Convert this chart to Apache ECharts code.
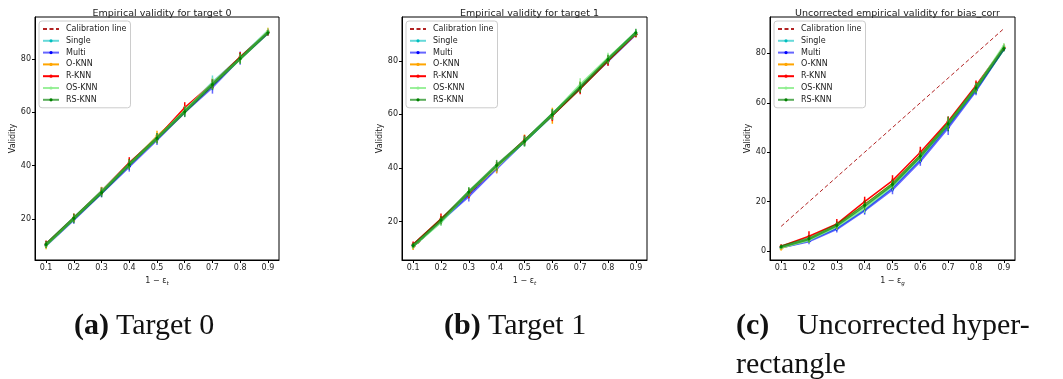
<!DOCTYPE html>
<html>
<head>
<meta charset="utf-8">
<script src="https://cdn.jsdelivr.net/npm/echarts@6/dist/echarts.min.js"></script>
<style>
html,body{margin:0;padding:0;background:#fff;}
#chart{width:1063px;height:379px;}
</style>
</head>
<body>
<div id="chart"></div>
<script>
// ---------- data ----------
const xs = [0.1, 0.2, 0.3, 0.4, 0.5, 0.6, 0.7, 0.8, 0.9];
const xTicks = [0.1, 0.2, 0.3, 0.4, 0.5, 0.6, 0.7, 0.8, 0.9];
const yTicksAB = [20, 40, 60, 80];
const yTicksC = [0, 20, 40, 60, 80];
const calib = [10, 20, 30, 40, 50, 60, 70, 80, 90];

const seriesNames = ['Calibration line', 'Single', 'Multi', 'O-KNN', 'R-KNN', 'OS-KNN', 'RS-KNN'];

const titles = ['Empirical validity for target 0', 'Empirical validity for target 1', 'Uncorrected empirical validity for bias_corr'];

// Target 0
const aSingle    = [10.5, 20.3, 30.2, 40.5, 50.5, 60.6, 71.0, 80.3, 90.2];
const aSingleErr = [1.2, 1.5, 1.6, 1.8, 1.8, 1.8, 2.8, 1.8, 1.0];
const aMulti     = [10.2, 19.8, 29.8, 39.8, 49.8, 60.2, 69.5, 80.3, 89.8];
const aMultiErr  = [1.0, 1.5, 1.6, 2.0, 2.0, 1.8, 2.5, 2.5, 1.0];
const aOKNN      = [10.0, 20.5, 30.6, 40.8, 51.3, 61.0, 70.5, 80.5, 90.5];
const aOKNNErr   = [1.3, 1.5, 1.5, 1.8, 1.8, 1.8, 1.8, 1.8, 1.2];
const aRKNN      = [10.8, 20.5, 30.5, 41.2, 50.5, 61.8, 70.8, 80.8, 90.0];
const aRKNNErr   = [1.2, 1.5, 1.5, 2.0, 1.8, 2.0, 1.8, 1.8, 1.2];
const aOSKNN     = [10.3, 20.2, 30.3, 40.5, 50.3, 60.5, 70.8, 80.0, 90.3];
const aOSKNNErr  = [1.2, 1.5, 1.6, 1.8, 2.0, 1.8, 2.2, 1.8, 1.2];
const aRSKNN     = [10.5, 20.3, 30.0, 40.5, 50.3, 60.2, 70.4, 80.2, 89.8];
const aRSKNNErr  = [1.3, 1.8, 1.8, 2.0, 2.0, 2.0, 2.0, 2.0, 1.0];

// Target 1
const bSingle    = [11.0, 20.0, 30.5, 40.5, 50.0, 59.8, 70.5, 80.5, 90.5];
const bSingleErr = [1.0, 1.5, 1.8, 1.8, 1.8, 2.0, 2.0, 1.8, 1.2];
const bMulti     = [11.0, 20.3, 29.5, 39.8, 50.0, 59.8, 70.0, 80.0, 90.0];
const bMultiErr  = [1.0, 1.5, 2.0, 1.8, 1.8, 2.0, 2.0, 1.8, 1.2];
const bOKNN      = [10.5, 20.5, 30.5, 40.0, 50.5, 59.5, 70.5, 80.3, 90.0];
const bOKNNErr   = [1.2, 1.5, 1.8, 2.0, 2.0, 3.0, 2.0, 1.8, 1.2];
const bRKNN      = [11.5, 21.0, 30.5, 40.5, 50.5, 59.5, 69.5, 80.0, 90.0];
const bRKNNErr   = [1.0, 2.0, 1.8, 1.8, 1.8, 2.0, 2.0, 1.8, 1.2];
const bOSKNN     = [10.8, 19.8, 31.0, 40.5, 50.0, 60.0, 71.0, 81.0, 90.5];
const bOSKNNErr  = [1.0, 1.5, 1.8, 1.8, 2.0, 2.0, 2.5, 2.0, 1.2];
const bRSKNN     = [11.0, 20.5, 31.0, 41.0, 50.0, 60.0, 70.0, 80.5, 90.5];
const bRSKNNErr  = [1.0, 1.5, 1.8, 2.0, 2.0, 2.0, 2.0, 1.8, 1.5];

// Uncorrected (bias_corr)
const cSingle    = [1.5, 4.5, 9.5, 17.0, 26.0, 37.5, 51.0, 65.5, 82.0];
const cSingleErr = [0.8, 1.2, 1.5, 2.0, 2.0, 2.0, 2.5, 2.0, 1.2];
const cMulti     = [1.5, 4.0, 9.0, 16.5, 25.0, 36.5, 50.0, 65.0, 82.0];
const cMultiErr  = [0.8, 1.2, 1.5, 1.8, 2.0, 2.0, 3.0, 2.0, 1.2];
const cOKNN      = [1.0, 5.0, 10.5, 19.0, 27.5, 39.0, 52.0, 66.5, 82.5];
const cOKNNErr   = [0.8, 1.5, 1.5, 2.0, 2.0, 2.0, 2.0, 2.0, 1.2];
const cRKNN      = [2.0, 6.0, 11.0, 20.0, 28.5, 40.0, 52.5, 67.0, 82.5];
const cRKNNErr   = [0.8, 2.0, 2.0, 2.0, 2.2, 2.2, 2.0, 2.0, 1.2];
const cOSKNN     = [1.5, 4.5, 10.0, 17.5, 26.5, 38.0, 51.5, 66.0, 83.0];
const cOSKNNErr  = [0.8, 1.2, 1.5, 2.0, 2.0, 2.0, 2.5, 2.0, 1.2];
const cRSKNN     = [1.8, 5.0, 10.5, 18.5, 27.0, 38.5, 51.5, 66.0, 82.0];
const cRSKNNErr  = [0.8, 1.5, 1.5, 2.0, 2.0, 2.2, 3.0, 2.2, 1.2];

const xSubs = ['t', 't', 'g'];

// ---------- styling (not data) ----------
const styles = {
  'Single': {color: 'rgba(0,191,191,0.6)', sym: '#00bfbf', lw: 3},
  'Multi':  {color: 'rgba(0,0,255,0.6)', sym: '#0000ff', lw: 2.5},
  'O-KNN':  {color: '#ffa500', sym: '#ffa500', lw: 1},
  'R-KNN':  {color: '#ff0000', sym: '#ff0000', lw: 1.5},
  'OS-KNN': {color: 'rgba(144,238,144,0.9)', sym: '#90ee90', lw: 2.5},
  'RS-KNN': {color: 'rgba(0,128,0,0.65)', sym: '#008000', lw: 3}
};

const panels = [
  {vals: [aSingle, aMulti, aOKNN, aRKNN, aOSKNN, aRSKNN], errs: [aSingleErr, aMultiErr, aOKNNErr, aRKNNErr, aOSKNNErr, aRSKNNErr], ymin: 4.7, ymax: 95.7, yt: yTicksAB},
  {vals: [bSingle, bMulti, bOKNN, bRKNN, bOSKNN, bRSKNN], errs: [bSingleErr, bMultiErr, bOKNNErr, bRKNNErr, bOSKNNErr, bRSKNNErr], ymin: 5.6, ymax: 96.4, yt: yTicksAB},
  {vals: [cSingle, cMulti, cOKNN, cRKNN, cOSKNN, cRSKNN], errs: [cSingleErr, cMultiErr, cOKNNErr, cRKNNErr, cOSKNNErr, cRSKNNErr], ymin: -3.6, ymax: 94.7, yt: yTicksC}
];

const gridPos = [
  {left: 35, top: 17, width: 244, height: 243},
  {left: 402, top: 17, width: 245, height: 243},
  {left: 770, top: 17, width: 245, height: 243}
];

const FONT = '"DejaVu Sans", sans-serif';

const grids = [], xAxes = [], yAxes = [], series = [], legends = [], titleArr = [];

const legendData = seriesNames.map((n, k) => k === 0 ? {name: n, itemStyle: {opacity: 0}} : {name: n});

gridPos.forEach((g, i) => {
  grids.push({left: g.left, top: g.top, width: g.width, height: g.height, show: true, borderColor: '#000', borderWidth: 1, backgroundColor: 'transparent', containLabel: false});
  xAxes.push({
    type: 'value', gridIndex: i, min: 0.06, max: 0.94,
    axisLine: {show: true, onZero: false, lineStyle: {color: '#000', width: 1}},
    axisTick: {show: true, length: 3, customValues: xTicks, lineStyle: {color: '#000'}},
    axisLabel: {customValues: xTicks, formatter: v => v.toFixed(1), fontSize: 8, fontFamily: FONT, color: '#222', margin: 4},
    splitLine: {show: false},
    name: '{a|1 − ε}{b|' + xSubs[i] + '}',
    nameLocation: 'middle', nameGap: 9,
    nameTextStyle: {rich: {a: {fontSize: 8, fontFamily: FONT, color: '#222'}, b: {fontSize: 5.5, fontFamily: FONT, color: '#222', padding: [5, 0, 0, 0], fontStyle: 'italic'}}}
  });
  yAxes.push({
    type: 'value', gridIndex: i, min: panels[i].ymin, max: panels[i].ymax,
    axisLine: {show: true, onZero: false, lineStyle: {color: '#000', width: 1}},
    axisTick: {show: true, length: 3, customValues: panels[i].yt, lineStyle: {color: '#000'}},
    axisLabel: {customValues: panels[i].yt, formatter: v => String(Math.round(v)), fontSize: 8, fontFamily: FONT, color: '#222', margin: 4},
    splitLine: {show: false},
    name: 'Validity', nameLocation: 'middle', nameGap: 12,
    nameTextStyle: {fontSize: 8, fontFamily: FONT, color: '#222'}
  });
  titleArr.push({
    text: titles[i], left: g.left + g.width / 2, top: 4, textAlign: 'center',
    textStyle: {fontSize: 9.5, fontWeight: 'normal', fontFamily: FONT, color: '#222'}
  });
  legends.push({
    data: legendData, orient: 'vertical', left: g.left + 4, top: 21,
    padding: [3, 4, 3, 3], itemWidth: 16, itemHeight: 4, itemGap: 1.8,
    borderColor: '#ccc', borderWidth: 1, borderRadius: 3, backgroundColor: 'rgba(255,255,255,0.85)',
    textStyle: {fontSize: 8, fontFamily: FONT, color: '#222', padding: [0, 0, 0, 2], lineHeight: 10},
    selectedMode: false
  });

  // calibration line
  series.push({
    type: 'line', name: 'Calibration line', xAxisIndex: i, yAxisIndex: i,
    data: xs.map((x, k) => [x, calib[k]]), symbol: 'none',
    lineStyle: {color: '#b22222', type: [4, 2.5], width: 1}, itemStyle: {color: '#b22222'},
    z: 2, silent: true, animation: false
  });

  seriesNames.slice(1).forEach((nm, s) => {
    const st = styles[nm];
    const vals = panels[i].vals[s], errs = panels[i].errs[s];
    series.push({
      type: 'custom', name: nm + ' err', xAxisIndex: i, yAxisIndex: i,
      data: xs.map((x, k) => [x, vals[k] - errs[k], vals[k] + errs[k]]),
      encode: {x: 0, y: [1, 2]},
      renderItem: function (params, api) {
        const p1 = api.coord([api.value(0), api.value(1)]);
        const p2 = api.coord([api.value(0), api.value(2)]);
        return {type: 'line', shape: {x1: p1[0], y1: p1[1], x2: p2[0], y2: p2[1]}, style: {stroke: st.color, lineWidth: 1.5}};
      },
      z: 3 + s, silent: true, animation: false
    });
    series.push({
      type: 'line', name: nm, xAxisIndex: i, yAxisIndex: i,
      data: xs.map((x, k) => [x, vals[k]]),
      symbol: 'circle', symbolSize: 3, showSymbol: true,
      lineStyle: {color: st.color, width: st.lw},
      itemStyle: {color: st.sym},
      z: 3 + s, silent: true, animation: false
    });
  });
});

const SERIF = '"Liberation Serif", "DejaVu Serif", serif';
const CF = '30px ' + SERIF, CB = 'bold 30px ' + SERIF;
const captions = [
  {type: 'text', left: 74, top: 311, style: {text: '(a)', font: CB, fill: '#111'}},
  {type: 'text', left: 116, top: 311, style: {text: 'Target 0', font: CF, fill: '#111'}},
  {type: 'text', left: 444, top: 311, style: {text: '(b)', font: CB, fill: '#111'}},
  {type: 'text', left: 488, top: 311, style: {text: 'Target 1', font: CF, fill: '#111'}},
  {type: 'text', left: 736, top: 311, style: {text: '(c)', font: CB, fill: '#111'}},
  {type: 'text', left: 797, top: 311, style: {text: 'Uncorrected', font: CF, fill: '#111'}},
  {type: 'text', left: 952, top: 311, style: {text: 'hyper-', font: CF, fill: '#111'}},
  {type: 'text', left: 736, top: 350, style: {text: 'rectangle', font: CF, fill: '#111'}}
];

const chart = echarts.init(document.getElementById('chart'), null, {renderer: 'canvas'});
chart.setOption({
  backgroundColor: '#fff',
  animation: false,
  title: titleArr,
  legend: legends,
  grid: grids,
  xAxis: xAxes,
  yAxis: yAxes,
  series: series,
  graphic: captions
});
</script>
</body>
</html>
